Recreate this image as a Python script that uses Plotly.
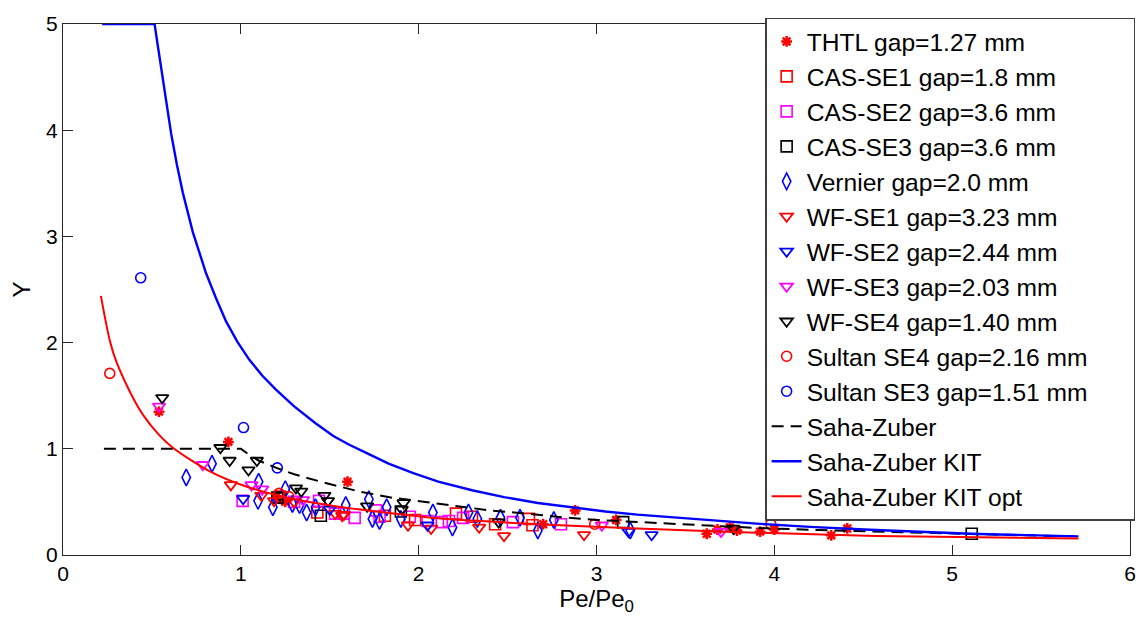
import plotly.graph_objects as go

# ---------------- data ----------------
thtl_x = [0.54, 0.93, 1.20, 1.25, 1.60, 2.70, 2.88, 3.11, 3.62, 3.68, 3.75, 3.79, 3.92, 4.00, 4.32, 4.41]
thtl_y = [1.35, 1.065, 0.55, 0.50, 0.69, 0.29, 0.42, 0.33, 0.20, 0.24, 0.26, 0.23, 0.22, 0.24, 0.185, 0.25]

cas1_x = [1.22, 1.43, 1.81, 1.98, 2.21, 2.30, 2.43, 2.62, 2.64]
cas1_y = [0.55, 0.40, 0.37, 0.33, 0.39, 0.36, 0.29, 0.34, 0.28]

cas2_x = [1.01, 1.30, 1.44, 1.53, 1.58, 1.64, 1.76, 1.78, 1.95, 2.05, 2.13, 2.17, 2.25, 2.53, 2.80]
cas2_y = [0.51, 0.50, 0.51, 0.39, 0.39, 0.35, 0.42, 0.36, 0.36, 0.32, 0.31, 0.32, 0.35, 0.31, 0.29]

cas3_x = [1.205, 1.45, 1.90, 3.15, 5.11]
cas3_y = [0.54, 0.37, 0.41, 0.31, 0.20]

vern_x = [0.693, 0.838, 1.10, 1.097, 1.18, 1.25, 1.29, 1.33, 1.37, 1.42, 1.59, 1.72, 1.82, 1.74, 1.78,
          1.90, 2.08, 2.19, 2.28, 2.33, 2.46, 2.57, 2.67, 2.76, 3.19]
vern_y = [0.73, 0.86, 0.69, 0.51, 0.45, 0.62, 0.48, 0.47, 0.40, 0.45, 0.47, 0.525, 0.45, 0.34, 0.32,
          0.34, 0.40, 0.26, 0.40, 0.34, 0.35, 0.35, 0.23, 0.33, 0.23]

wf1_x = [0.944, 1.116, 1.187, 1.30, 1.53, 1.57, 1.58, 1.94, 2.07, 2.34, 2.48, 2.93]
wf1_y = [0.66, 0.56, 0.51, 0.50, 0.39, 0.37, 0.38, 0.28, 0.25, 0.26, 0.18, 0.19]

wf2_x = [1.013, 1.50, 2.05, 3.18, 3.31]
wf2_y = [0.53, 0.43, 0.28, 0.22, 0.19]

wf3_x = [0.54, 0.786, 1.06, 1.12, 1.35, 3.03, 3.70]
wf3_y = [1.40, 0.85, 0.66, 0.62, 0.52, 0.28, 0.22]

wf4_x = [0.558, 0.885, 0.937, 1.043, 1.09, 1.22, 1.31, 1.34, 1.47, 1.49, 1.71, 1.905, 1.915, 2.45, 3.77]
wf4_y = [1.48, 1.01, 0.89, 0.80, 0.89, 0.56, 0.63, 0.60, 0.56, 0.51, 0.46, 0.43, 0.49, 0.31, 0.25]

sul4_x = [0.263, 1.215, 1.27, 2.99, 3.98]
sul4_y = [1.71, 0.58, 0.55, 0.29, 0.29]

sul3_x = [0.437, 1.015, 1.205]
sul3_y = [2.61, 1.20, 0.82]

sz_x = [0.23, 1.00, 1.05, 1.10, 1.20, 1.30, 1.45, 1.55, 1.66, 1.85, 2.11, 2.40, 2.67, 2.78, 3.00, 3.23, 3.55, 3.90, 4.25, 4.57, 4.90, 5.30, 5.71]
sz_y = [1.00, 1.00, 0.94, 0.89, 0.82, 0.76, 0.69, 0.65, 0.60, 0.54, 0.48, 0.42, 0.38, 0.36, 0.33, 0.31, 0.28, 0.255, 0.235, 0.22, 0.205, 0.19, 0.175]

kit_x = [0.22, 0.515, 0.53, 0.545, 0.562, 0.585, 0.608, 0.64, 0.674, 0.73, 0.77, 0.805, 0.86, 0.917, 0.98,
         1.047, 1.12, 1.196, 1.30, 1.42, 1.52, 1.607, 1.72, 1.831, 1.97, 2.11, 2.30, 2.48, 2.67, 2.857,
         3.05, 3.23, 3.42, 3.60, 3.90, 4.20, 4.57, 5.10, 5.71]
kit_y = [5.0, 5.0, 4.83, 4.67, 4.47, 4.20, 3.97, 3.68, 3.41, 3.04, 2.82, 2.65, 2.42, 2.20, 2.01,
         1.84, 1.69, 1.56, 1.40, 1.24, 1.12, 1.04, 0.95, 0.86, 0.77, 0.69, 0.61, 0.545, 0.49, 0.45,
         0.41, 0.38, 0.355, 0.33, 0.295, 0.265, 0.235, 0.20, 0.175]

opt_x = [0.213, 0.263, 0.30, 0.403, 0.45, 0.53, 0.618, 0.823, 1.03, 1.29, 1.55, 1.66, 2.11, 2.67, 3.23, 3.90, 4.57, 5.71]
opt_y = [2.44, 2.02, 1.82, 1.45, 1.32, 1.15, 1.01, 0.79, 0.645, 0.53, 0.455, 0.43, 0.345, 0.29, 0.25, 0.21, 0.18, 0.155]

x_ticks = [0, 1, 2, 3, 4, 5, 6]
y_ticks = [0, 1, 2, 3, 4, 5]

# ---------------- figure ----------------
FONT = "Liberation Sans, Arial, Helvetica, sans-serif"
RED, BLUE, MAG, BLK = "#ff0000", "#0000ff", "#ff00ff", "#000000"
PAD = "\u00a0" * 6

series = [
    ("THTL gap=1.27 mm", thtl_x, thtl_y, "asterisk-open", RED, 9, 2.5),
    ("CAS-SE1 gap=1.8 mm", cas1_x, cas1_y, "square-open", RED, 11, 1.6),
    ("CAS-SE2 gap=3.6 mm", cas2_x, cas2_y, "square-open", MAG, 11, 1.6),
    ("CAS-SE3 gap=3.6 mm", cas3_x, cas3_y, "square-open", BLK, 11, 1.6),
    ("Vernier gap=2.0 mm", vern_x, vern_y, "diamond-tall-open", BLUE, 12, 1.6),
    ("WF-SE1 gap=3.23 mm", wf1_x, wf1_y, "triangle-down-open", RED, 11, 1.8),
    ("WF-SE2 gap=2.44 mm", wf2_x, wf2_y, "triangle-down-open", BLUE, 11, 1.8),
    ("WF-SE3 gap=2.03 mm", wf3_x, wf3_y, "triangle-down-open", MAG, 11, 1.8),
    ("WF-SE4 gap=1.40 mm", wf4_x, wf4_y, "triangle-down-open", BLK, 11, 1.8),
    ("Sultan SE4 gap=2.16 mm" + PAD, sul4_x, sul4_y, "circle-open", RED, 10, 1.6),
    ("Sultan SE3 gap=1.51 mm", sul3_x, sul3_y, "circle-open", BLUE, 10, 1.6),
]

fig = go.Figure()
for name, xs, ys, sym, col, size, lw in series:
    fig.add_trace(go.Scatter(
        x=xs, y=ys, mode="markers", name=name,
        marker=dict(symbol=sym, size=size, color=col, line=dict(color=col, width=lw)),
    ))

fig.add_trace(go.Scatter(x=sz_x, y=sz_y, mode="lines", name="Saha-Zuber",
                         line=dict(color=BLK, width=2, dash="12px,7px")))
fig.add_trace(go.Scatter(x=kit_x, y=kit_y, mode="lines", name="Saha-Zuber KIT",
                         line=dict(color=BLUE, width=2.4)))
fig.add_trace(go.Scatter(x=opt_x, y=opt_y, mode="lines", name="Saha-Zuber KIT opt",
                         line=dict(color=RED, width=2, shape="spline", smoothing=0.8)))

axis_common = dict(
    showgrid=False, zeroline=False, showline=True, linecolor="#262626", linewidth=1.3,
    mirror="ticks", ticks="inside", ticklen=10, tickwidth=1, tickcolor="#262626",
    tickfont=dict(family=FONT, size=21, color="#000000"), layer="below traces",
)

fig.update_layout(
    width=1148, height=628,
    margin=dict(l=63, r=13, t=15, b=73),
    paper_bgcolor="white", plot_bgcolor="white",
    font=dict(family=FONT, color="#000000"),
    showlegend=True,
    legend=dict(
        x=1.005, y=1.012, xanchor="right", yanchor="top", maxheight=620,
        bgcolor="white", bordercolor="#404040", borderwidth=1.3,
        font=dict(family=FONT, size=24.6, color="#000000"),
        tracegroupgap=0, itemsizing="trace",
    ),
    xaxis=dict(range=[0, 6], tickvals=x_ticks,
               title=dict(text="Pe/Pe<sub>0</sub>", font=dict(family=FONT, size=24), standoff=2),
               **axis_common),
    yaxis=dict(range=[0, 5], tickvals=y_ticks,
               title=dict(text="Y", font=dict(family=FONT, size=24), standoff=8),
               **axis_common),
)

fig.write_html("out.html")
